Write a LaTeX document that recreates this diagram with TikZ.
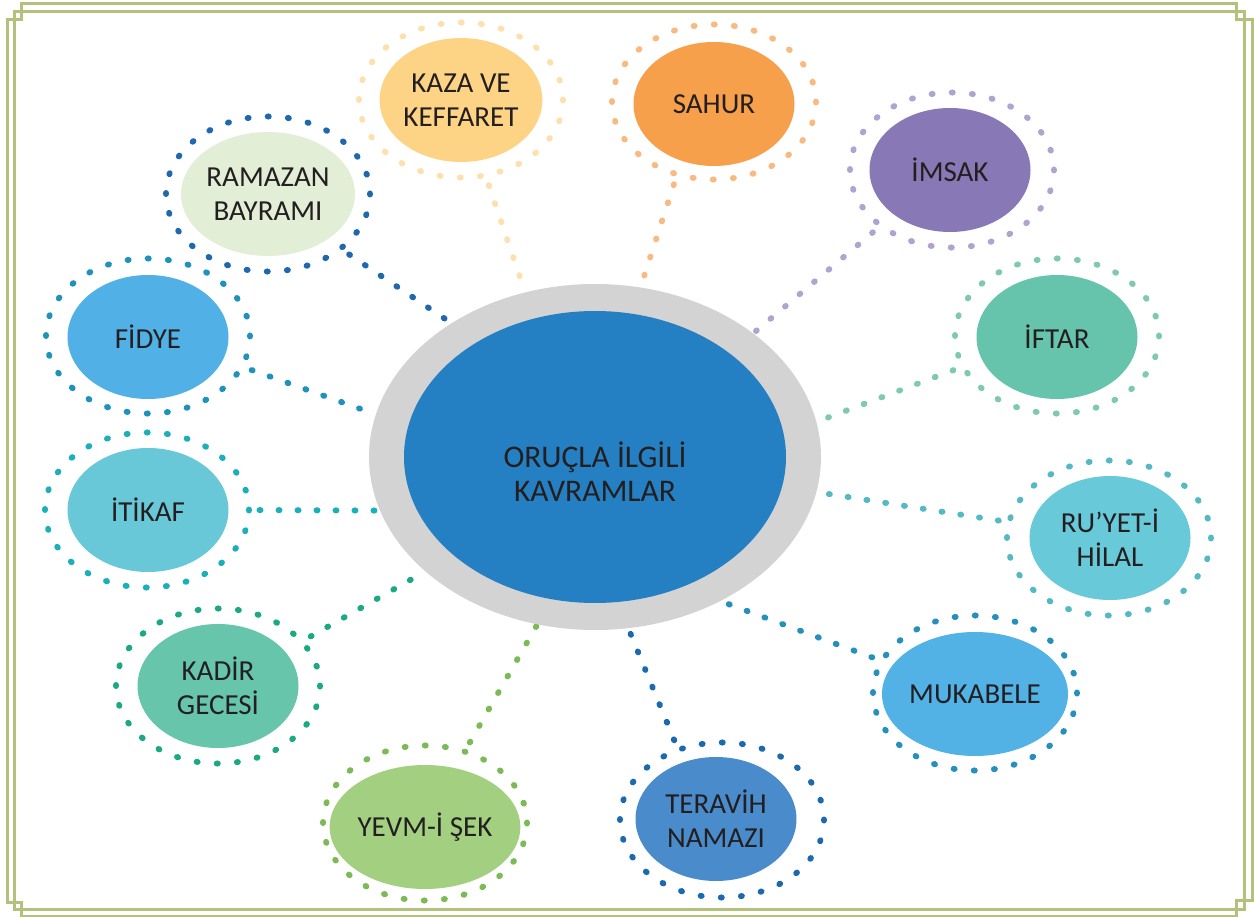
\documentclass[tikz,border=0pt]{standalone}
\usepackage{fontspec}
\setmainfont{Carlito}
\usetikzlibrary{shapes.geometric,decorations.markings}
\definecolor{frame}{HTML}{B3C17C}
\definecolor{txt}{HTML}{231F20}
\definecolor{cgray}{HTML}{D3D3D3}
\definecolor{cblue}{HTML}{2580C3}
\definecolor{ramF}{HTML}{E2EED6}\definecolor{ramR}{HTML}{1F67AE}
\definecolor{kazF}{HTML}{FDD385}\definecolor{kazR}{HTML}{FDE0AE}
\definecolor{sahF}{HTML}{F7A04B}\definecolor{sahR}{HTML}{F9BA82}
\definecolor{imsF}{HTML}{8878B5}\definecolor{imsR}{HTML}{B0A3D0}
\definecolor{iftF}{HTML}{66C4AC}\definecolor{iftR}{HTML}{7FCAAF}
\definecolor{ruyF}{HTML}{68CAD9}\definecolor{ruyR}{HTML}{55B9C4}
\definecolor{mukF}{HTML}{52B2E5}\definecolor{mukR}{HTML}{2690BD}
\definecolor{terF}{HTML}{4A8CCB}\definecolor{terR}{HTML}{1B6AB0}
\definecolor{yevF}{HTML}{A3D080}\definecolor{yevR}{HTML}{7BBA56}
\definecolor{kadF}{HTML}{66C5AB}\definecolor{kadR}{HTML}{1AA982}
\definecolor{itiF}{HTML}{68C8D8}\definecolor{itiR}{HTML}{1BB0B9}
\definecolor{fidF}{HTML}{51B1E6}\definecolor{fidR}{HTML}{1E92BC}
\tikzset{
  ringnode/.style={ellipse, minimum width=204pt, minimum height=155pt, inner sep=0pt, outer sep=0pt,
     postaction={decorate, decoration={markings,
        mark=between positions 0 and 0.99 step 20.2pt with {\fill[#1] (0,0) ellipse [x radius=3.5pt, y radius=3.1pt];}}}},
  fillnode/.style={ellipse, fill=#1, draw=none, minimum width=161pt, minimum height=124pt, inner sep=0pt, outer sep=0pt,
     align=center, text=txt, font=\fontsize{29}{34}\selectfont},
  conn/.style={decorate, decoration={markings,
        mark=between positions 11pt and 1 step 19pt with {\fill[#1] (0,0) ellipse [x radius=3.5pt, y radius=3.1pt];}}},
  framepath/.style={draw=frame, line width=3pt}
}
\begin{document}
\begin{tikzpicture}[x=1pt,y=-1pt]
\useasboundingbox (0,0) rectangle (1254,917);
% frame
\draw[framepath] (21,4) -- (1236,4) -- (1236,20) -- (1252,20) -- (1252,900) -- (1236,900) -- (1236,916)
  -- (21,916) -- (21,902) -- (7,902) -- (7,20) -- (21,20) -- cycle;
\draw[framepath] (14,12) rectangle (1244,909);
% ring nodes
\node[ringnode=ramR] (ramRing) at (268,194) {};
\node[ringnode=kazR] (kazRing) at (461,100) {};
\node[ringnode=sahR] (sahRing) at (714,102) {};
\node[ringnode=imsR] (imsRing) at (952,170) {};
\node[ringnode=iftR] (iftRing) at (1057,336) {};
\node[ringnode=ruyR] (ruyRing) at (1109,538) {};
\node[ringnode=mukR] (mukRing) at (975,693) {};
\node[ringnode=terR] (terRing) at (722,820) {};
\node[ringnode=yevR] (yevRing) at (425,823) {};
\node[ringnode=kadR] (kadRing) at (218,686) {};
\node[ringnode=itiR] (itiRing) at (147,510) {};
\node[ringnode=fidR] (fidRing) at (148,336) {};
% central (shape only, for anchors)
\node[ellipse, minimum width=452pt, minimum height=346pt, inner sep=0pt, outer sep=0pt] (center) at (595,457) {};
% connectors
\path[conn=ramR] (ramRing.-37.5) -- (center.137.9);
\path[conn=kazR] (kazRing.-72.7) -- (center.113.8);
\path[conn=sahR] (sahRing.-117.6) -- (center.75.2);
\path[conn=imsR] (imsRing.-142.1) -- (center.38.7);
\path[conn=iftR] (iftRing.-162.3) -- (center.9.8);
\path[conn=ruyR] (ruyRing.171.6) -- (center.-9);
\path[conn=mukR] (mukRing.161.9) -- (center.-49.3);
\path[conn=terR] (terRing.122) -- (center.-79.2);
\path[conn=yevR] (yevRing.61.9) -- (center.-109.9);
\path[conn=kadR] (kadRing.28) -- (center.-146);
\path[conn=itiR] (itiRing.0) -- (center.-166.3);
\path[conn=fidR] (fidRing.-18.6) -- (center.169);
% central ellipse
\fill[cgray] (center.center) ellipse [x radius=226pt, y radius=173pt];
\node[ellipse, fill=cblue, minimum width=382pt, minimum height=292pt, inner sep=0pt] (cblue) at (595,457) {};
\node[align=center, text=txt, font=\fontsize{31.5}{34}\selectfont] (ctext) at (595,472) {ORUÇLA İLGİLİ\\KAVRAMLAR};
% filled nodes
\node[fillnode=ramF] (ram) at (268,194) {RAMAZAN\\BAYRAMI};
\node[fillnode=kazF] (kaz) at (461,100) {KAZA VE\\KEFFARET};
\node[fillnode=sahF] (sah) at (714,104) {SAHUR};
\node[fillnode=imsF] (ims) at (950,170) {İMSAK};
\node[fillnode=iftF] (ift) at (1057,337) {İFTAR};
\node[fillnode=ruyF] (ruy) at (1110,538) {RU’YET-İ\\HİLAL};
\node[fillnode=mukF] (muk) at (975,694) {MUKABELE};
\node[fillnode=terF] (ter) at (716,819) {TERAVİH\\NAMAZI};
\node[fillnode=yevF] (yev) at (425,827) {YEVM-İ ŞEK};
\node[fillnode=kadF] (kad) at (218,686) {KADİR\\GECESİ};
\node[fillnode=itiF] (iti) at (148,510) {İTİKAF};
\node[fillnode=fidF] (fid) at (148,337) {FİDYE};
\end{tikzpicture}
\end{document}
